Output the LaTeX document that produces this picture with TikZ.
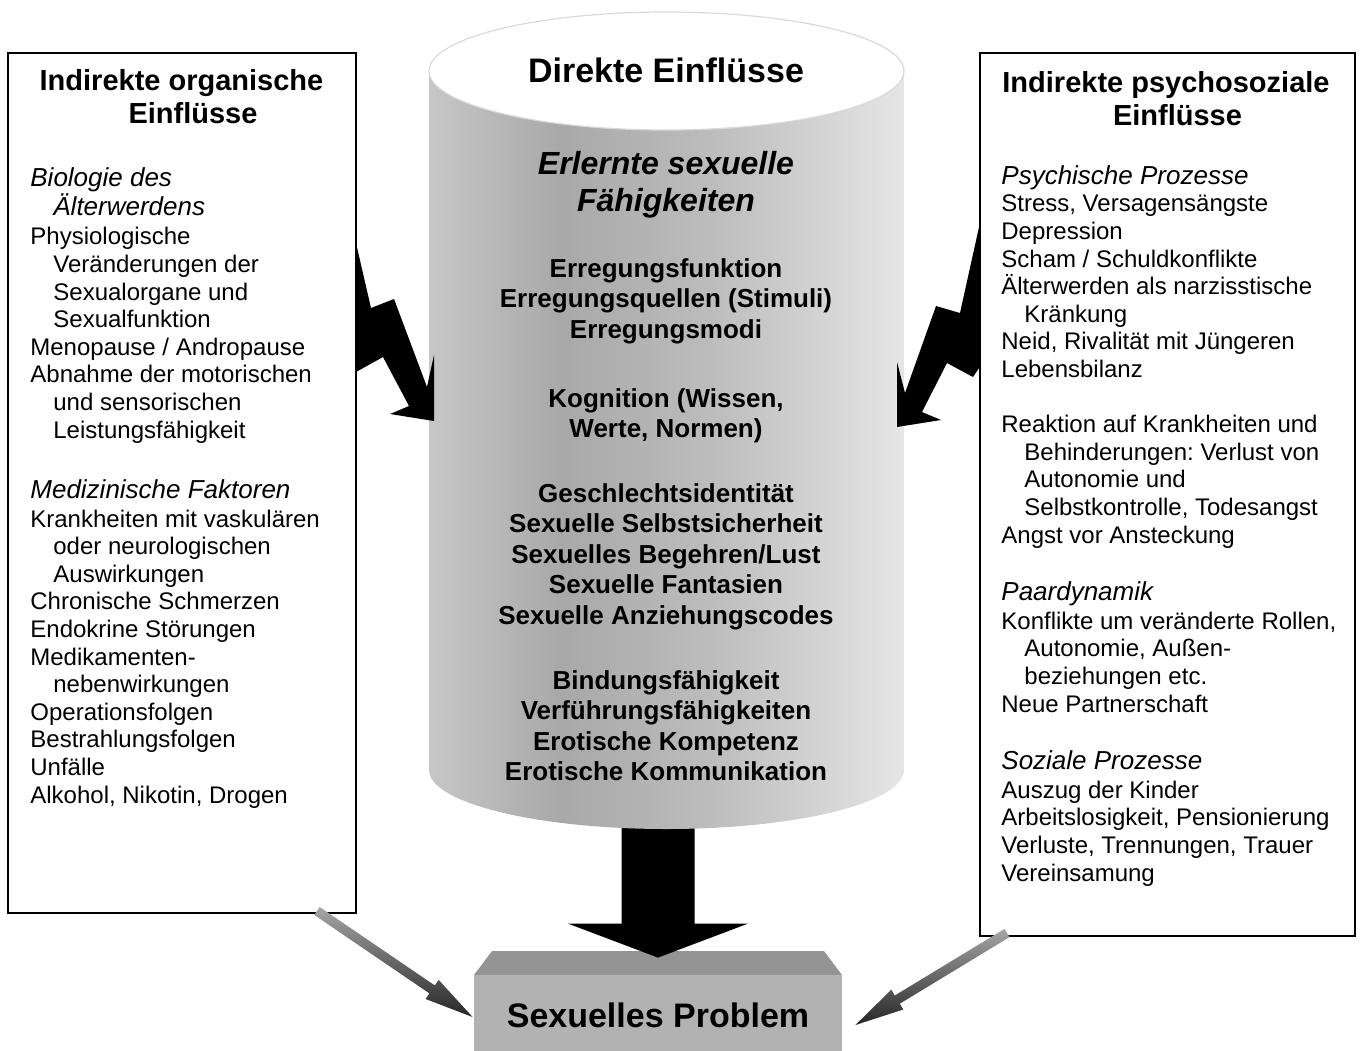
\documentclass[tikz,border=0pt]{standalone}
\usepackage{fontspec}
\setmainfont{Liberation Sans}
\usepackage{xcolor}
\usepackage{tikz}
\usetikzlibrary{calc}

\definecolor{cylA}{gray}{0.78}
\definecolor{cylB}{gray}{0.66}
\definecolor{cylC}{gray}{0.74}
\definecolor{cylD}{gray}{0.90}
\definecolor{frontgray}{gray}{0.70}
\definecolor{bevelgray}{gray}{0.58}
\pgfdeclarehorizontalshading{cylshade}{100bp}{color(0bp)=(cylA); color(25bp)=(cylA); color(39bp)=(cylB); color(55bp)=(cylC); color(75bp)=(cylD); color(100bp)=(cylD)}

% block arrow: style, start, tip, half width, head half width, head length
\newcommand{\fatarrow}[6]{%
  \coordinate (hb) at ($(#3)!#6!(#2)$);
  \path[#1] ($(#2)!#4!90:(#3)$) -- ($(hb)!#4!90:(#3)$) -- ($(hb)!#5!90:(#3)$) -- (#3)
    -- ($(hb)!#5!-90:(#3)$) -- ($(hb)!#4!-90:(#3)$) -- ($(#2)!#4!-90:(#3)$) -- cycle;}

\begin{document}
\begin{tikzpicture}[x=0.5pt,y=-0.5pt]

	\tikzstyle{box} = [draw,line width=1pt,fill=white]
	\tikzstyle{head} = [align=center,inner sep=0pt,anchor=base,font=\fontsize{14.5}{16.5}\selectfont\bfseries]
	\tikzstyle{sub} = [align=left,inner sep=0pt,anchor=base west,font=\fontsize{13}{14.5}\selectfont\itshape]
	\tikzstyle{txt} = [align=left,inner sep=0pt,anchor=base west,font=\fontsize{12}{13.8}\selectfont\frenchspacing]
	\tikzstyle{cyltxt} = [align=center,inner sep=0pt,anchor=base,font=\fontsize{13}{15.25}\selectfont\bfseries]

	\useasboundingbox (0,0) rectangle (1360,1050);

	% Problem
	\fill[bevelgray] (474,975) -- (492,951) -- (824,951) -- (842,975) -- cycle;
	\node[fill=frontgray,minimum width=184pt,minimum height=40pt,inner sep=0pt,font=\fontsize{17}{20}\selectfont\bfseries] (problem) at (658,1015) {Sexuelles Problem};

	\node[box,minimum width=174pt,minimum height=430pt] (orgbox) at (182,483) {};
	\node[box,minimum width=187.5pt,minimum height=441.5pt] (psybox) at (1167.5,494.5) {};

	\coordinate (lstart) at ($(orgbox.south east)+(-40,-3)$);
	\coordinate (ltip) at ($(problem.west)+(-1,2)$);
	\coordinate (rstart) at ($(psybox.south west)+(28,-4)$);
	\coordinate (rtip) at ($(problem.east)+(13,10)$);
	\coordinate (cylbase) at (658,800);
	\coordinate (ptip) at ($(problem.north)+(0,-17)$);

	\fatarrow{top color=gray!70,bottom color=black!85}{lstart}{ltip}{2.4pt}{5.8pt}{24.5pt}
	\fatarrow{top color=gray!70,bottom color=black!85}{rstart}{rtip}{2.4pt}{5.8pt}{24.5pt}
	\fatarrow{fill=black}{cylbase}{ptip}{18.25pt}{45pt}{17pt}

	% cylinder
	\shade[shading=cylshade] (429,71) -- (429,770) arc[start angle=180,end angle=0,x radius=237.5,y radius=59] -- (904,71) -- cycle;
	\draw[fill=white,draw=gray!30,line width=0.6pt] (666.5,71) ellipse [x radius=237.5,y radius=59];

	% lightning
	\fill[black] (356,243) -- (371,308) -- (394,299) -- (427,387) -- (434,355) -- (434,421) -- (390,414) -- (409,406) -- (383,357) -- (356,372) -- cycle;
	\fill[black] (979,227) -- (960,313) -- (936,306) -- (905,393) -- (897,362) -- (897,427) -- (941,420) -- (922,412) -- (947,363) -- (973,377) -- (979,368) -- cycle;

	\node[cyltxt,font=\fontsize{17}{20}\selectfont\bfseries] (cyltitle) at (666,82) {Direkte Einflüsse};
	\node[cyltxt,font=\fontsize{16}{18.5}\selectfont\bfseries\itshape] (cylhead) at (666,211) {Erlernte sexuelle\\Fähigkeiten};
	\node[cyltxt] (cylg1) at (666,338) {Erregungsfunktion\\Erregungsquellen (Stimuli)\\Erregungsmodi};
	\node[cyltxt] (cylg2) at (666,437.5) {Kognition (Wissen,\\Werte, Normen)};
	\node[cyltxt] (cylg3) at (666,624) {Geschlechtsidentität\\Sexuelle Selbstsicherheit\\Sexuelles Begehren/Lust\\Sexuelle Fantasien\\Sexuelle Anziehungscodes};
	\node[cyltxt] (cylg4) at (666,780.5) {Bindungsfähigkeit\\Verführungsfähigkeiten\\Erotische Kompetenz\\Erotische Kommunikation};

	% left box
	\node[head] (orghead) at (181.5,123) {Indirekte organische\\\hspace*{11.5pt}Einflüsse};
	\node[sub] (bioh) at (30,215) {Biologie des\\\hspace*{11.5pt}Älterwerdens};
	\node[txt] (biot) at (30,438) {Physiologische\\\hspace*{11.5pt}Veränderungen der\\\hspace*{11.5pt}Sexualorgane und\\\hspace*{11.5pt}Sexualfunktion\\Menopause / Andropause\\Abnahme der motorischen\\\hspace*{11.5pt}und sensorischen\\\hspace*{11.5pt}Leistungsfähigkeit};
	\node[sub] (medh) at (30,498) {Medizinische Faktoren};
	\node[txt] (medt) at (30,803) {Krankheiten mit vaskulären\\\hspace*{11.5pt}oder neurologischen\\\hspace*{11.5pt}Auswirkungen\\Chronische Schmerzen\\Endokrine Störungen\\Medikamenten-\\\hspace*{11.5pt}nebenwirkungen\\Operationsfolgen\\Bestrahlungsfolgen\\Unfälle\\Alkohol, Nikotin, Drogen};

	% right box
	\node[head] (psyhead) at (1166,125) {Indirekte psychosoziale\\\hspace*{11.5pt}Einflüsse};
	\node[sub] (psyh) at (1001,184) {Psychische Prozesse};
	\node[txt] (psyt) at (1001,543) {Stress, Versagensängste\\Depression\\Scham / Schuldkonflikte\\Älterwerden als narzisstische\\\hspace*{11.5pt}Kränkung\\Neid, Rivalität mit Jüngeren\\Lebensbilanz\\[13.8pt]Reaktion auf Krankheiten und\\\hspace*{11.5pt}Behinderungen: Verlust von\\\hspace*{11.5pt}Autonomie und\\\hspace*{11.5pt}Selbstkontrolle, Todesangst\\Angst vor Ansteckung};
	\node[sub] (paarh) at (1001,600) {Paardynamik};
	\node[txt] (paart) at (1001,712) {Konflikte um veränderte Rollen,\\\hspace*{11.5pt}Autonomie, Außen-\\\hspace*{11.5pt}beziehungen etc.\\Neue Partnerschaft};
	\node[sub] (sozh) at (1001,769) {Soziale Prozesse};
	\node[txt] (sozt) at (1001,881) {Auszug der Kinder\\Arbeitslosigkeit, Pensionierung\\Verluste, Trennungen, Trauer\\Vereinsamung};

\end{tikzpicture}
\end{document}
